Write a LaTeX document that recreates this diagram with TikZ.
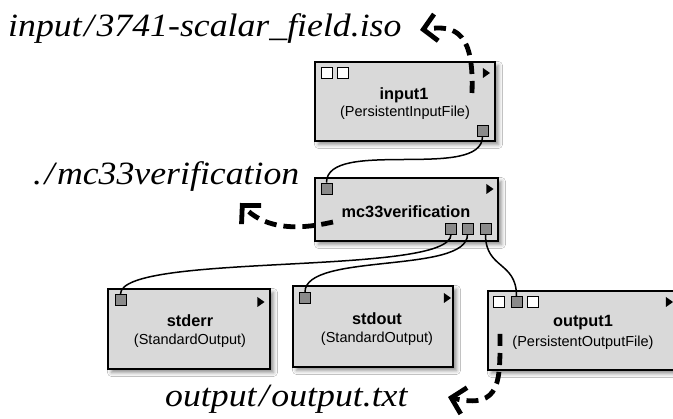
\documentclass[tikz,border=0pt]{standalone}
\usepackage{fontspec}
\setmainfont{Liberation Sans}
\newfontfamily\pathfont[FakeStretch=1.1]{Liberation Serif}
\usetikzlibrary{arrows.meta,shadows.blur,shapes.geometric}

\definecolor{boxgray}{HTML}{D9D9D9}
\definecolor{portgray}{HTML}{8A8A8A}

\newcommand{\pslash}{\kern2.5pt/\kern2.5pt}

\tikzset{
  modbox/.style={draw=black, line width=2.6pt, fill=boxgray, rectangle, inner sep=0pt,
    blur shadow={shadow xshift=3.5pt, shadow yshift=-3.5pt, shadow blur radius=4pt, shadow opacity=45}},
  port/.style={draw=black, line width=0.9pt, fill=portgray, rectangle, inner sep=0pt,
    minimum width=11pt, minimum height=11pt},
  emptyport/.style={draw=black, line width=0.9pt, fill=white, rectangle, inner sep=0pt,
    minimum width=11pt, minimum height=11pt},
  runtri/.style={fill=black, draw=none, isosceles triangle, isosceles triangle apex angle=70,
    inner sep=0pt, minimum height=7pt, minimum width=10pt},
  modname/.style={font=\fontsize{16.3}{18}\selectfont\bfseries, inner sep=0pt},
  modtype/.style={font=\fontsize{14.5}{16}\selectfont, inner sep=0pt},
  pathlabel/.style={font=\pathfont\itshape\fontsize{32.5}{38}\selectfont, inner sep=0pt},
  wire/.style={line width=1.5pt, black},
  fileflow/.style={line width=4.8pt, dash pattern=on 12pt off 7pt,
    -{Straight Barb[length=13pt,width=27pt,line width=4.8pt]}}
}

\begin{document}
\begin{tikzpicture}[x=1pt,y=-1pt]
\clip (0,0) rectangle (673,419);
\fill[white] (0,0) rectangle (673,419);

% modules
\node[modbox, minimum width=180pt, minimum height=79pt] (in1) at (405,101.5) {};
\node[modbox, minimum width=183pt, minimum height=63pt] (mc) at (406.5,209.5) {};
\node[modbox, minimum width=162pt, minimum height=80pt] (err) at (189,329) {};
\node[modbox, minimum width=160pt, minimum height=81pt] (out) at (373,326.5) {};
\node[modbox, minimum width=192pt, minimum height=79pt] (of) at (584,330.5) {};

% module texts
\node[modname] (in1n) at (404,95) {input1};
\node[modtype] (in1t) at (405,113) {(PersistentInputFile)};
\node[modname] (mcn) at (406,212) {mc33verification};
\node[modname] (errn) at (190,321) {stderr};
\node[modtype] (errt) at (190,341) {(StandardOutput)};
\node[modname] (outn) at (377,319) {stdout};
\node[modtype] (outt) at (377,339) {(StandardOutput)};
\node[modname] (ofn) at (583,323) {output1};
\node[modtype] (oft) at (583,343) {(PersistentOutputFile)};

% run triangles
\node[runtri] (in1r) at (485.5,73) {};
\node[runtri] (mcr) at (489,189) {};
\node[runtri] (errr) at (260,302) {};
\node[runtri] (outr) at (446.5,298) {};
\node[runtri] (ofr) at (668.5,302) {};

% ports
\node[emptyport] (in1a) at (326.5,72.5) {};
\node[emptyport] (in1b) at (343,72.5) {};
\node[port] (in1o) at (482.5,130.5) {};
\node[port] (mci) at (326.5,188.5) {};
\node[port] (mco1) at (451,228.5) {};
\node[port] (mco2) at (467.5,228.5) {};
\node[port] (mco3) at (485.5,228.5) {};
\node[port] (erri) at (120.5,300) {};
\node[port] (outi) at (305,298) {};
\node[emptyport] (ofa) at (499,302) {};
\node[port] (ofi) at (516.5,302) {};
\node[emptyport] (ofb) at (532.5,302) {};

% connections
\draw[wire] (in1o.south) .. controls +(0,45) and +(0,-45) .. (mci.north);
\draw[wire] (mco1.south) .. controls +(0,42) and +(0,-42) .. (erri.north);
\draw[wire] (mco2.south) .. controls +(0,40) and +(0,-40) .. (outi.north);
\draw[wire] (mco3.south) .. controls +(0,35) and +(0,-35) .. (ofi.north);

% file path labels
\node[pathlabel, anchor=base west] (lin) at (8,37) {input\pslash 3741-scalar\_field.iso};
\node[pathlabel, anchor=base west] (lmc) at (33,185) {.\pslash mc33verification};
\node[pathlabel, anchor=base west] (lof) at (165,407) {output\pslash output.txt};

% file flows
\coordinate (fin) at (472,93);
\coordinate (fintip) at (420,30);
\draw[fileflow] (fin) .. controls (474,35) and (458,24) .. (fintip);
\coordinate (fmc) at (333,222);
\coordinate (fmctip) at (240,203);
\draw[fileflow] (fmc) .. controls (290,232) and (262,226) .. (fmctip);
\coordinate (fof) at (500,334);
\coordinate (foftip) at (448,397);
\draw[fileflow] (fof) .. controls (500,380) and (502,410) .. (foftip);
\end{tikzpicture}
\end{document}
